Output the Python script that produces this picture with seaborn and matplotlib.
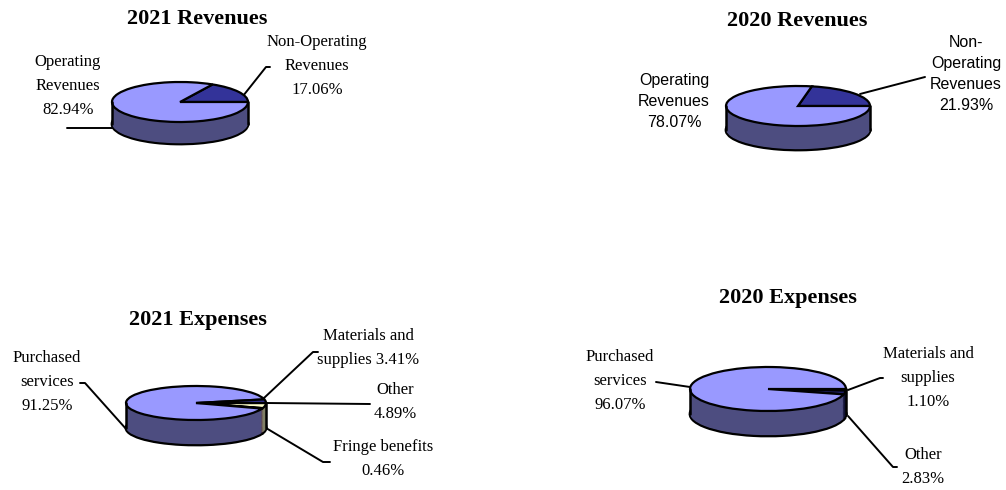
import numpy as np
import matplotlib
matplotlib.use('Agg')
import matplotlib.pyplot as plt
import seaborn as sns

sns.set_theme(style='white')
plt.rcParams['font.family'] = ['Liberation Serif', 'DejaVu Serif']
plt.rcParams['text.color'] = 'black'

W, H = 1006, 490

LIGHT = '#9999FF'
DARK = '#333399'
YELLOW = '#FFFFCC'
PLUM = '#993366'
NAVY = '#1F1F66'

# data
rev21_labels = ['Non-Operating Revenues', 'Operating Revenues']
rev21_values = [17.06, 82.94]
rev20_labels = ['Non-Operating Revenues', 'Operating Revenues']
rev20_values = [21.93, 78.07]
exp21_labels = ['Other', 'Fringe benefits', 'Purchased services', 'Materials and supplies']
exp21_values = [4.89, 0.46, 91.25, 3.41]
exp20_labels = ['Materials and supplies', 'Other', 'Purchased services']
exp20_values = [1.10, 2.83, 96.07]


def darker(c, f=0.5):
    r, g, b = matplotlib.colors.to_rgb(c)
    return (r * f, g * f, b * f)


def pie3d(cx, cy, rx, ry, depth, values, colors, counterclock=True):
    # flattened pie with a side band made of stacked pies
    m = 0.05
    d = depth / ry
    left = (cx - rx * (1 + m)) / W
    bottom = (H - (cy + ry + depth + ry * m)) / H
    ax = fig.add_axes([left, bottom, 2 * rx * (1 + m) / W, (ry * (2 + d + 2 * m)) / H])
    side = [darker(c) if c != LIGHT else '#4D4D80' for c in colors]
    for k in np.linspace(d, 0, 30):
        lw = 2.0 if k == d else 0
        ax.pie(values, colors=side, startangle=0, counterclock=counterclock,
               center=(0, -k), radius=1,
               wedgeprops=dict(linewidth=lw, edgecolor='black'))
    ax.pie(values, colors=colors, startangle=0, counterclock=counterclock,
           center=(0, 0), radius=1,
           wedgeprops=dict(linewidth=1.6, edgecolor='black'))
    ax.plot([-1, -1], [0, -d], color='black', lw=1.8)
    ax.plot([1, 1], [0, -d], color='black', lw=1.8)
    ax.set_aspect('auto')
    ax.set_xlim(-1 - m, 1 + m)
    ax.set_ylim(-1 - d - m, 1 + m)
    ax.axis('off')
    return ax


fig = plt.figure(figsize=(W / 100, H / 100), dpi=100)
fig.patch.set_facecolor('white')

ov = fig.add_axes([0, 0, 1, 1])
ov.set_xlim(0, W)
ov.set_ylim(H, 0)
ov.axis('off')

serif_lbl = dict(fontsize=12, ha='center', va='center', linespacing=1.65,
                 family=['Liberation Serif'], color='black')
sans_lbl = dict(fontsize=11.5, ha='center', va='center', linespacing=1.5,
                family=['Liberation Sans'], color='black')
title_kw = dict(fontsize=16, fontweight='bold', ha='center', va='center',
                family=['Liberation Serif'], color='black')
lk = dict(color='black', lw=1.4)

# 2021 Revenues
ov.text(197, 19, '2021 Revenues', **title_kw)
pie3d(180, 102, 68, 20, 22, rev21_values, [DARK, LIGHT])
ov.text(68, 86, 'Operating\nRevenues\n%.2f%%' % rev21_values[1], **serif_lbl)
ov.text(317, 66, 'Non-Operating\nRevenues\n%.2f%%' % rev21_values[0], **serif_lbl)
ov.plot([67, 113, 118], [128, 128, 125], **lk)
ov.plot([243, 266, 270], [96, 67, 67], **lk)

# 2020 Revenues
ov.text(797, 21, '2020 Revenues', **title_kw)
pie3d(798, 106, 72, 20, 24, rev20_values, [DARK, LIGHT])
ov.text(674, 101, 'Operating\nRevenues\n%.2f%%' % rev20_values[1], **sans_lbl)
ov.text(966, 74, 'Non-\nOperating\nRevenues\n%.2f%%' % rev20_values[0], **sans_lbl)
ov.plot([860, 925], [94, 77], **lk)

# 2021 Expenses
ov.text(198, 320, '2021 Expenses', **title_kw)
pie3d(196, 403, 70, 17, 25, exp21_values, [YELLOW, PLUM, LIGHT, DARK],
      counterclock=False)
ov.text(47, 382, 'Purchased\nservices\n%.2f%%' % exp21_values[2], **serif_lbl)
ov.text(368, 348, 'Materials and\nsupplies %.2f%%' % exp21_values[3], **serif_lbl)
ov.text(395, 402, 'Other\n%.2f%%' % exp21_values[0], **serif_lbl)
ov.text(383, 459, 'Fringe benefits\n%.2f%%' % exp21_values[1], **serif_lbl)
ov.plot([80, 85, 127], [383, 383, 430], **lk)
ov.plot([264, 313, 318], [398, 352, 352], **lk)
ov.plot([266, 370], [403, 404], **lk)
ov.plot([266, 323, 330], [428, 462, 462], **lk)

# 2020 Expenses
ov.text(788, 298, '2020 Expenses', **title_kw)
pie3d(768, 389, 78, 22, 25, exp20_values, [DARK, NAVY, LIGHT],
      counterclock=False)
ov.text(620, 381, 'Purchased\nservices\n%.2f%%' % exp20_values[2], **serif_lbl)
ov.text(928, 378, 'Materials and\nsupplies\n%.2f%%' % exp20_values[0], **serif_lbl)
ov.text(923, 467, 'Other\n%.2f%%' % exp20_values[1], **serif_lbl)
ov.plot([656, 690], [382, 387], **lk)
ov.plot([848, 880, 883], [390, 378, 378], **lk)
ov.plot([848, 893, 897], [416, 467, 467], **lk)

fig.savefig('out.png', dpi=100, facecolor='white')
